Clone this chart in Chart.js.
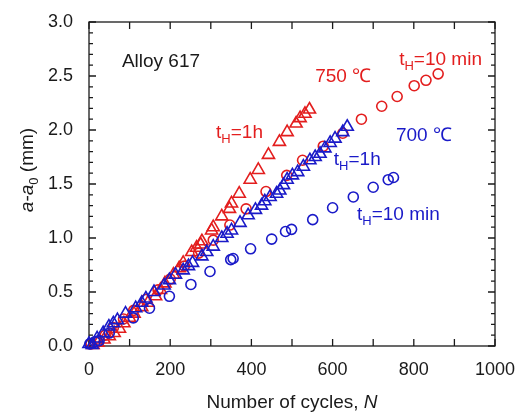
<!DOCTYPE html>
<html>
<head>
<meta charset="utf-8">
<script src="https://cdn.jsdelivr.net/npm/chart.js@4.4.1/dist/chart.umd.min.js"></script>
<style>
  html, body { margin: 0; padding: 0; background: #fff; }
</style>
</head>
<body>
<canvas id="chart" width="522" height="414"></canvas>
<script>
  const RED = "#e31e1e";
  const BLUE = "#1a1ac8";
  const INK = "#1a1a1a";
  const FONT = "'Liberation Sans', Arial, Helvetica, sans-serif";

  // [N, a - a0 (mm)]
  const red10min = [
    [5, 0.02], [20, 0.04], [40, 0.1], [60, 0.17], [85, 0.25], [110, 0.33], [140, 0.43],
    [170, 0.52], [200, 0.62], [235, 0.74], [270, 0.86], [306, 0.98], [347, 1.12],
    [387, 1.27], [436, 1.43], [487, 1.58], [526, 1.72], [577, 1.85], [625, 1.97],
    [671, 2.1], [721, 2.22], [759, 2.31], [801, 2.41], [830, 2.46], [860, 2.52],
  ];
  const red1h = [
    [10, 0.01], [22, 0.03], [37, 0.06], [50, 0.09], [62, 0.12], [75, 0.16], [86, 0.21],
    [100, 0.26], [111, 0.3], [130, 0.36], [145, 0.4], [164, 0.46], [176, 0.52],
    [187, 0.58], [208, 0.66], [222, 0.72], [232, 0.77], [253, 0.87], [265, 0.91],
    [275, 0.94], [278, 0.97], [302, 1.07], [306, 1.1], [327, 1.2], [346, 1.27],
    [351, 1.32], [370, 1.41], [397, 1.54], [417, 1.63], [442, 1.77], [469, 1.89],
    [488, 1.98], [510, 2.06], [520, 2.11], [532, 2.15], [543, 2.19],
  ];
  const blue10min = [
    [2, 0.02], [15, 0.04], [25, 0.05], [50, 0.12], [109, 0.26], [149, 0.35], [198, 0.46],
    [251, 0.57], [298, 0.69], [349, 0.8], [355, 0.81], [398, 0.9], [450, 0.99],
    [484, 1.06], [499, 1.08], [551, 1.17], [600, 1.28], [651, 1.38], [700, 1.47],
    [737, 1.54], [750, 1.56],
  ];
  const blue1h = [
    [0, 0.02], [8, 0.01], [20, 0.07], [35, 0.12], [49, 0.18], [60, 0.21], [70, 0.24],
    [90, 0.3], [115, 0.35], [130, 0.4], [140, 0.44], [160, 0.5], [185, 0.56], [198, 0.61],
    [213, 0.66], [232, 0.7], [245, 0.74], [255, 0.77], [278, 0.83], [290, 0.87],
    [306, 0.92], [327, 1.0], [340, 1.04], [351, 1.07], [372, 1.14], [392, 1.21],
    [410, 1.26], [425, 1.3], [433, 1.34], [446, 1.38], [462, 1.41], [470, 1.44],
    [479, 1.49], [488, 1.54], [501, 1.58], [514, 1.61], [528, 1.66], [544, 1.72],
    [557, 1.75], [569, 1.78], [581, 1.83], [594, 1.88], [606, 1.92], [625, 1.98],
    [636, 2.03],
  ];

  const xMajor = [0, 100, 200, 300, 400, 500, 600, 700, 800, 900, 1000];
  const yMajor = [0, 0.5, 1.0, 1.5, 2.0, 2.5, 3.0];
  const yMinor = [0.1, 0.2, 0.3, 0.4, 0.6, 0.7, 0.8, 0.9, 1.1, 1.2, 1.3, 1.4, 1.6, 1.7,
    1.8, 1.9, 2.1, 2.2, 2.3, 2.4, 2.6, 2.7, 2.8, 2.9];

  // text labels: parts of rich text, anchored in data units (left, baseline)
  const notes = [
    { at: [81, 2.58], color: INK, parts: [{ t: "Alloy 617" }] },
    { at: [557, 2.44], color: RED, parts: [{ t: "750 \u2103" }] },
    { at: [764, 2.6], color: RED, parts: [{ t: "t" }, { t: "H", sub: true }, { t: "=10 min" }] },
    { at: [313, 1.93], color: RED, parts: [{ t: "t" }, { t: "H", sub: true }, { t: "=1h" }] },
    { at: [756, 1.9], color: BLUE, parts: [{ t: "700 \u2103" }] },
    { at: [603, 1.68], color: BLUE, parts: [{ t: "t" }, { t: "H", sub: true }, { t: "=1h" }] },
    { at: [660, 1.17], color: BLUE, parts: [{ t: "t" }, { t: "H", sub: true }, { t: "=10 min" }] },
  ];

  const toPoints = (rows) => rows.map(([x, y]) => ({ x, y }));

  function partFont(p, base) {
    const size = p.sub ? Math.round(base * 0.68) : base;
    return `${p.it ? "italic " : ""}${size}px ${FONT}`;
  }

  function richWidth(ctx, parts, base) {
    return parts.reduce((w, p) => {
      ctx.font = partFont(p, base);
      return w + ctx.measureText(p.t).width;
    }, 0);
  }

  function drawRich(ctx, x, y, parts, color, base) {
    ctx.fillStyle = color;
    ctx.textBaseline = "alphabetic";
    ctx.textAlign = "left";
    let cx = x;
    parts.forEach((p) => {
      ctx.font = partFont(p, base);
      ctx.fillText(p.t, cx, y + (p.sub ? 5 : 0));
      cx += ctx.measureText(p.t).width;
    });
  }

  const framePlugin = {
    id: "frame",
    beforeDatasetsDraw(chart) {
      const { ctx, chartArea: a, scales } = chart;
      ctx.save();
      ctx.strokeStyle = INK;
      ctx.lineWidth = 1.3;
      ctx.strokeRect(a.left, a.top, a.right - a.left, a.bottom - a.top);
      ctx.beginPath();
      xMajor.forEach((v) => {
        const px = scales.x.getPixelForValue(v);
        ctx.moveTo(px, a.bottom); ctx.lineTo(px, a.bottom - 7);
        ctx.moveTo(px, a.top); ctx.lineTo(px, a.top + 7);
      });
      yMajor.forEach((v) => {
        const py = scales.y.getPixelForValue(v);
        ctx.moveTo(a.left, py); ctx.lineTo(a.left + 7, py);
        ctx.moveTo(a.right, py); ctx.lineTo(a.right - 7, py);
      });
      yMinor.forEach((v) => {
        const py = scales.y.getPixelForValue(v);
        ctx.moveTo(a.left, py); ctx.lineTo(a.left + 4, py);
        ctx.moveTo(a.right, py); ctx.lineTo(a.right - 4, py);
      });
      ctx.stroke();
      ctx.restore();
    },
    afterDraw(chart) {
      const { ctx, chartArea: a, scales } = chart;
      ctx.save();
      notes.forEach((n) => {
        drawRich(ctx, scales.x.getPixelForValue(n.at[0]), scales.y.getPixelForValue(n.at[1]), n.parts, n.color, 19);
      });

      // x axis title
      const xTitle = [{ t: "Number of cycles, " }, { t: "N", it: true }];
      const xw = richWidth(ctx, xTitle, 19);
      drawRich(ctx, (a.left + a.right) / 2 - xw / 2, 408, xTitle, INK, 19);

      // y axis title
      const yTitle = [{ t: "a", it: true }, { t: "-" }, { t: "a", it: true }, { t: "0", sub: true }, { t: " (mm)" }];
      const yw = richWidth(ctx, yTitle, 19);
      ctx.translate(33, 170);
      ctx.rotate(-Math.PI / 2);
      drawRich(ctx, -yw / 2, 0, yTitle, INK, 19);
      ctx.restore();
    },
  };

  const series = (label, rows, color, style, radius) => ({
    label,
    data: toPoints(rows),
    pointStyle: style,
    pointRadius: radius,
    pointHoverRadius: radius,
    pointBorderWidth: 1.6,
    borderColor: color,
    backgroundColor: "rgba(0,0,0,0)",
    pointBackgroundColor: "rgba(0,0,0,0)",
    pointBorderColor: color,
    showLine: false,
    clip: false,
  });

  new Chart(document.getElementById("chart").getContext("2d"), {
    type: "scatter",
    data: {
      datasets: [
        series("700 \u2103 tH=1h", blue1h, BLUE, "triangle", 7),
        series("700 \u2103 tH=10 min", blue10min, BLUE, "circle", 5),
        series("750 \u2103 tH=1h", red1h, RED, "triangle", 7),
        series("750 \u2103 tH=10 min", red10min, RED, "circle", 5),
      ],
    },
    options: {
      responsive: false,
      animation: false,
      layout: { padding: { top: 22, right: 27, left: 0, bottom: 0 } },
      plugins: {
        legend: { display: false },
        tooltip: { enabled: false },
      },
      scales: {
        x: {
          type: "linear",
          min: 0,
          max: 1000,
          grid: { display: false, drawTicks: false },
          border: { display: false },
          afterFit(scale) {
            scale.height = 68;
            scale.paddingLeft = 0;
            scale.paddingRight = 0;
          },
          ticks: {
            stepSize: 200,
            padding: 13,
            color: INK,
            font: { family: FONT, size: 18 },
            maxRotation: 0,
            callback: (v) => String(v),
          },
        },
        y: {
          type: "linear",
          min: 0,
          max: 3,
          grid: { display: false, drawTicks: false },
          border: { display: false },
          afterFit(scale) {
            scale.width = 89;
            scale.paddingTop = 0;
            scale.paddingBottom = 0;
          },
          ticks: {
            stepSize: 0.5,
            padding: 16,
            color: INK,
            font: { family: FONT, size: 18 },
            callback: (v) => Number(v).toFixed(1),
          },
        },
      },
    },
    plugins: [framePlugin],
  });
</script>
</body>
</html>
